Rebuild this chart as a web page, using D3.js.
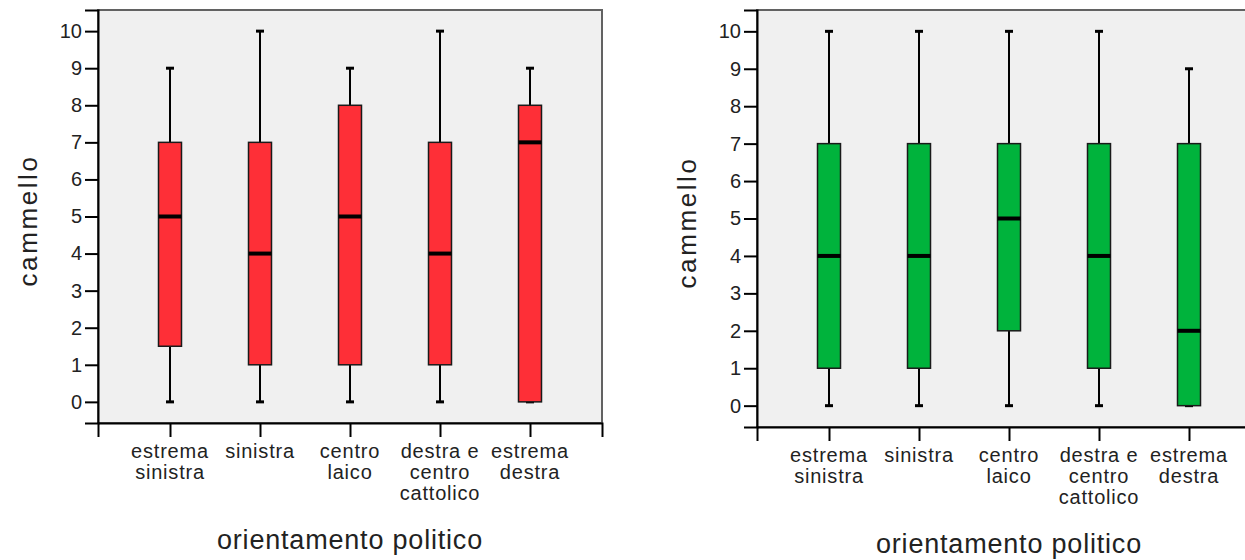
<!DOCTYPE html>
<html>
<head>
<meta charset="utf-8">
<script src="https://cdn.jsdelivr.net/npm/d3@7"></script>
<style>
  body { margin: 0; background: #fff; }
  svg { display: block; font-family: "Liberation Sans", Arial, sans-serif; }
</style>
</head>
<body>
<svg id="chart" width="1245" height="560"></svg>
<script>
// categories (multi-line labels)
const categories = [
  ["estrema", "sinistra"],
  ["sinistra"],
  ["centro", "laico"],
  ["destra e", "centro", "cattolico"],
  ["estrema", "destra"]
];
const yTicks = [0, 1, 2, 3, 4, 5, 6, 7, 8, 9, 10];

// left panel (red)
const leftMin = [0, 0, 0, 0, 0];
const leftQ1 = [1.5, 1, 1, 1, 0];
const leftMedian = [5, 4, 5, 4, 7];
const leftQ3 = [7, 7, 8, 7, 8];
const leftMax = [9, 10, 9, 10, 9];

// right panel (green)
const rightMin = [0, 0, 0, 0, 0];
const rightQ1 = [1, 1, 2, 1, 0];
const rightMedian = [4, 4, 5, 4, 2];
const rightQ3 = [7, 7, 7, 7, 7];
const rightMax = [10, 10, 10, 10, 9];

const svg = d3.select("#chart");

function drawPanel(opts) {
  const { left, right, top, bottom, color, mins, q1s, meds, q3s, maxs } = opts;
  const g = svg.append("g");
  const labels = categories.map((c) => c.join(" "));

  const x = d3.scalePoint().domain(labels).range([left, right]).padding(0.8);
  const y = d3.scaleLinear().domain([-0.57, 10.57]).range([bottom, top]);

  // frame
  g.append("rect")
    .attr("x", left)
    .attr("y", top)
    .attr("width", right - left)
    .attr("height", bottom - top)
    .attr("fill", "#f0f0f0")
    .attr("stroke", "#626262")
    .attr("stroke-width", 2);

  // y axis
  const yAxis = d3.axisLeft(y).tickValues(yTicks).tickSize(13).tickPadding(3);
  const ya = g.append("g").attr("transform", `translate(${left},0)`).call(yAxis);
  ya.attr("font-size", null).attr("font-family", null);
  ya.select(".domain").attr("stroke", "#000").attr("stroke-width", 2);
  ya.selectAll(".tick line").attr("stroke", "#000").attr("stroke-width", 2);
  ya.selectAll(".tick text")
    .style("font-size", "20px")
    .attr("fill", "#222");

  // x axis
  const xAxis = d3.axisBottom(x).tickSize(14).tickFormat("");
  const xa = g.append("g").attr("transform", `translate(0,${bottom})`).call(xAxis);
  xa.select(".domain").attr("stroke", "#000").attr("stroke-width", 2);
  xa.selectAll(".tick line").attr("stroke", "#000").attr("stroke-width", 2);

  // category labels
  categories.forEach((c, i) => {
    const t = g.append("text")
      .attr("x", x(labels[i]))
      .attr("y", bottom + 35)
      .attr("text-anchor", "middle")
      .style("font-size", "20px")
      .style("letter-spacing", "0.8px")
      .attr("fill", "#222");
    c.forEach((line, j) => {
      t.append("tspan").attr("x", x(labels[i])).attr("dy", j === 0 ? 0 : 21).text(line);
    });
  });

  // axis titles
  g.append("text")
    .attr("transform", `translate(${left - 61},${(top + bottom) / 2 + 4}) rotate(-90)`)
    .attr("text-anchor", "middle")
    .style("font-size", "26px")
    .style("letter-spacing", "2.6px")
    .attr("fill", "#222")
    .text("cammello");

  g.append("text")
    .attr("x", x(labels[2]))
    .attr("y", bottom + 126)
    .attr("text-anchor", "middle")
    .style("font-size", "27px")
    .style("letter-spacing", "0.8px")
    .attr("fill", "#222")
    .text("orientamento politico");

  const boxW = 23;
  const capW = 8;
  const boxes = g.selectAll(".box").data(labels).enter().append("g").attr("class", "box");

  // whiskers
  boxes.append("line")
    .attr("x1", (d) => x(d)).attr("x2", (d) => x(d))
    .attr("y1", (d, i) => y(maxs[i])).attr("y2", (d, i) => y(q3s[i]))
    .attr("stroke", "#000").attr("stroke-width", 2);
  boxes.append("line")
    .attr("x1", (d) => x(d)).attr("x2", (d) => x(d))
    .attr("y1", (d, i) => y(q1s[i])).attr("y2", (d, i) => y(mins[i]))
    .attr("stroke", "#000").attr("stroke-width", 2);
  // caps
  boxes.append("line")
    .attr("x1", (d) => x(d) - capW / 2).attr("x2", (d) => x(d) + capW / 2)
    .attr("y1", (d, i) => y(maxs[i])).attr("y2", (d, i) => y(maxs[i]))
    .attr("stroke", "#000").attr("stroke-width", 3);
  boxes.append("line")
    .attr("x1", (d) => x(d) - capW / 2).attr("x2", (d) => x(d) + capW / 2)
    .attr("y1", (d, i) => y(mins[i])).attr("y2", (d, i) => y(mins[i]))
    .attr("stroke", "#000").attr("stroke-width", 3);
  // box
  boxes.append("rect")
    .attr("x", (d) => x(d) - boxW / 2)
    .attr("y", (d, i) => y(q3s[i]))
    .attr("width", boxW)
    .attr("height", (d, i) => y(q1s[i]) - y(q3s[i]))
    .attr("fill", color)
    .attr("stroke", "#1a1a1a")
    .attr("stroke-width", 1.5);
  // median
  boxes.append("line")
    .attr("x1", (d) => x(d) - boxW / 2).attr("x2", (d) => x(d) + boxW / 2)
    .attr("y1", (d, i) => y(meds[i])).attr("y2", (d, i) => y(meds[i]))
    .attr("stroke", "#000").attr("stroke-width", 4);
}

drawPanel({
  left: 98, right: 602, top: 10, bottom: 423, color: "#fe2f37",
  mins: leftMin, q1s: leftQ1, meds: leftMedian, q3s: leftQ3, maxs: leftMax
});
drawPanel({
  left: 757, right: 1261, top: 10, bottom: 427, color: "#00b33c",
  mins: rightMin, q1s: rightQ1, meds: rightMedian, q3s: rightQ3, maxs: rightMax
});
</script>
</body>
</html>
